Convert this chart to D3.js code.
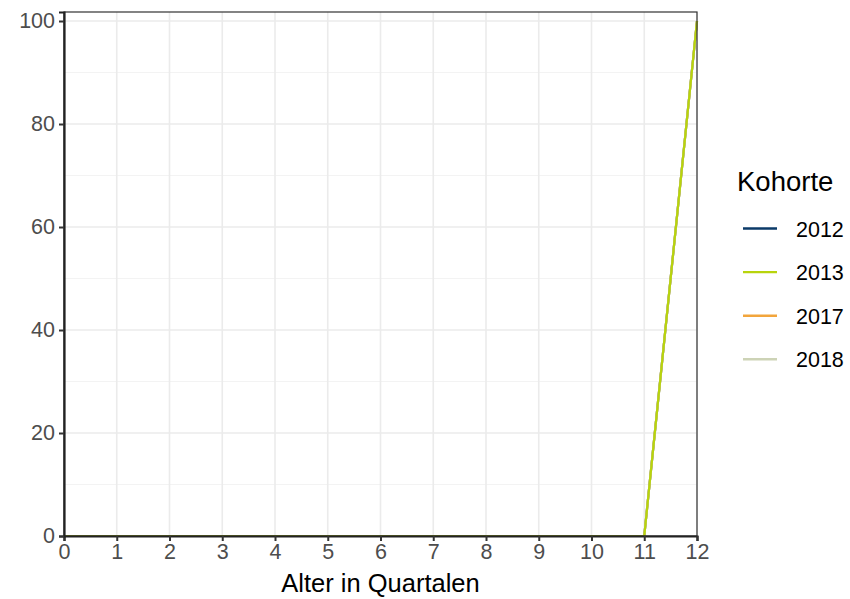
<!DOCTYPE html>
<html><head><meta charset="utf-8">
<script src="https://cdn.jsdelivr.net/npm/d3@7"></script>
<style>body{margin:0;background:#fff;font-family:"Liberation Sans",Arial,sans-serif}</style>
</head><body><svg id="c" width="850" height="599"></svg>
<script>
const quarters = [0,1,2,3,4,5,6,7,8,9,10,11,12];
const cohorts = ["2012","2013","2017","2018"];
const colors = ["#0b3a68","#b8d40c","#f2a53c","#cdd3b6"];
const v2012 = [0,0,0,0,0,0,0,0,0,0,0,0,100];
const v2013 = [0,0,0,0,0,0,0,0,0,0,0,0,100];
const v2017 = [0,0,0,0,0,0,0,0,0,0,0,0,100];
const v2018 = [0,0,0,0,0,0,0,0,0,0,0,0,100];
const seriesValues = [v2012, v2013, v2017, v2018];
const xTicks = [0,1,2,3,4,5,6,7,8,9,10,11,12];
const yTicks = [0,20,40,60,80,100];
const yMinor = [10,30,50,70,90];

const svg = d3.select("#c");
const L=64, R=697, T=12, B=536;
const x = d3.scaleLinear().domain([0,12]).range([L,R]);
const y = d3.scaleLinear().domain([0,101.75]).range([B,T]);
const FONT = "Liberation Sans, Arial, sans-serif";

// grid
const g = svg.append("g");
g.selectAll(".mn").data(yMinor).join("line")
 .attr("x1",L).attr("x2",R).attr("y1",d=>y(d)).attr("y2",d=>y(d))
 .attr("stroke","#f2f2f2").attr("stroke-width",0.9);
g.selectAll(".my").data(yTicks).join("line")
 .attr("x1",L).attr("x2",R).attr("y1",d=>y(d)).attr("y2",d=>y(d))
 .attr("stroke","#ebebeb").attr("stroke-width",1.6);
g.selectAll(".mx").data(xTicks).join("line")
 .attr("y1",T).attr("y2",B).attr("x1",d=>x(d)).attr("x2",d=>x(d))
 .attr("stroke","#ebebeb").attr("stroke-width",1.6);

// lines (2013 on top)
const line = d3.line().x((d,i)=>x(quarters[i])).y(d=>y(d));
const order = [0,2,3,1];
order.forEach(k=>{
  svg.append("path").datum(seriesValues[k]).attr("d",line)
   .attr("fill","none").attr("stroke",colors[k]).attr("stroke-width",2.2);
});

// border
svg.append("rect").attr("x",L).attr("y",T).attr("width",R-L).attr("height",B-T)
 .attr("fill","none").attr("stroke","#333").attr("stroke-width",1.2);

// axes
const xa = svg.append("g").attr("transform",`translate(0,${B})`)
 .call(d3.axisBottom(x).tickValues(xTicks).tickSize(5).tickPadding(3).tickFormat(d3.format("d")));
const ya = svg.append("g").attr("transform",`translate(${L},0)`)
 .call(d3.axisLeft(y).tickValues(yTicks).tickSize(5).tickPadding(4).tickFormat(d3.format("d")));
[xa,ya].forEach(a=>{
  a.attr("font-size",null).attr("font-family",null);
  a.select(".domain").attr("stroke","#222").attr("stroke-width",2.2);
  a.selectAll(".tick line").attr("stroke","#333").attr("stroke-width",2);
  a.selectAll(".tick text").attr("fill","#4d4d4d")
   .style("font-size","21.5px").style("font-family",FONT);
});

svg.append("text").attr("x",(L+R)/2).attr("y",592).attr("text-anchor","middle")
 .style("font-size","25.5px").style("font-family",FONT).attr("fill","#000").text("Alter in Quartalen");

// legend
const lg = svg.append("g");
lg.append("text").attr("x",737).attr("y",191).style("font-size","27.5px").style("font-family",FONT)
 .attr("fill","#000").text("Kohorte");
cohorts.forEach((c,i)=>{
  const yy = 228.5 + i*43.6;
  lg.append("line").attr("x1",743).attr("x2",777).attr("y1",yy).attr("y2",yy)
   .attr("stroke",colors[i]).attr("stroke-width",2.4);
  lg.append("text").attr("x",796).attr("y",yy+8).style("font-size","21.5px").style("font-family",FONT)
   .attr("fill","#000").text(c);
});
</script></body></html>
